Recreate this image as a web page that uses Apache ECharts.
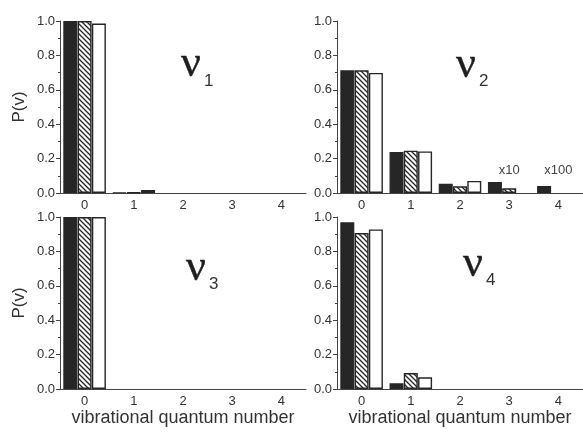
<!DOCTYPE html>
<html>
<head>
<meta charset="utf-8">
<script src="https://cdn.jsdelivr.net/npm/echarts@6/dist/echarts.min.js"></script>
<style>
html,body{margin:0;padding:0;background:#fff;}
#chart{width:583px;height:432px;}
</style>
</head>
<body>
<div id="chart"></div>
<script>
// ---- data ----
var categories = ['0', '1', '2', '3', '4'];
var yTicks = [0, 0.2, 0.4, 0.6, 0.8, 1.0];

var nu1Filled  = [1.000, 0.003, '-', '-', '-'];
var nu1Hatched = [1.000, 0.003, '-', '-', '-'];
var nu1Open    = [0.985, 0.017, '-', '-', '-'];

var nu2Filled  = [0.713, 0.238, 0.054, 0.064, 0.041];
var nu2Hatched = [0.713, 0.246, 0.039, 0.027, '-'];
var nu2Open    = [0.698, 0.242, 0.070, '-', '-'];

var nu3Filled  = [1.000, '-', '-', '-', '-'];
var nu3Hatched = [1.000, '-', '-', '-', '-'];
var nu3Open    = [1.000, '-', '-', '-', '-'];

var nu4Filled  = [0.969, 0.033, '-', '-', '-'];
var nu4Hatched = [0.907, 0.093, '-', '-', '-'];
var nu4Open    = [0.928, 0.068, '-', '-', '-'];

var panelLabels = ['1', '2', '3', '4'];
var scaleNotes = [{cat: 3, text: 'x10'}, {cat: 4, text: 'x100'}];

// ---- styles ----
var DARK = '#262626';
var AXIS = '#444';
var TXT = '#333';
var SANS = 'Liberation Sans, Arial, sans-serif';

var pc = document.createElement('canvas');
pc.width = 5; pc.height = 5;
var g = pc.getContext('2d');
g.fillStyle = '#fff'; g.fillRect(0, 0, 5, 5);
g.strokeStyle = DARK; g.lineWidth = 1.3;
g.beginPath();
g.moveTo(-1, -1); g.lineTo(6, 6);
g.moveTo(-1, 4); g.lineTo(1, 6);
g.moveTo(4, -1); g.lineTo(6, 1);
g.stroke();
var hatch = {image: pc, repeat: 'repeat'};

var grids = [
  {left: 60, top: 21, width: 246, height: 172},
  {left: 337, top: 21, width: 246, height: 172},
  {left: 60, top: 217, width: 246, height: 172},
  {left: 337, top: 217, width: 246, height: 172}
];

var xAxes = [], yAxes = [], series = [];
var sets = [
  [nu1Filled, nu1Hatched, nu1Open],
  [nu2Filled, nu2Hatched, nu2Open],
  [nu3Filled, nu3Hatched, nu3Open],
  [nu4Filled, nu4Hatched, nu4Open]
];

grids.forEach(function (gr, i) {
  var bottom = i >= 2;
  xAxes.push({
    type: 'category', gridIndex: i, data: categories, boundaryGap: true,
    axisLine: {lineStyle: {color: AXIS, width: 1}},
    axisTick: {alignWithLabel: true, length: 4, lineStyle: {color: AXIS}},
    axisLabel: {color: TXT, fontFamily: SANS, fontSize: 13, margin: 6},
    name: bottom ? 'vibrational quantum number' : '',
    nameLocation: 'middle', nameGap: 18,
    nameTextStyle: {color: TXT, fontFamily: SANS, fontSize: 18}
  });
  xAxes.push({
    type: 'category', gridIndex: i, data: categories, boundaryGap: true,
    position: 'bottom',
    axisLine: {show: false},
    axisTick: {length: 2, lineStyle: {color: AXIS}},
    axisLabel: {show: false}
  });
  yAxes.push({
    type: 'value', gridIndex: i, min: 0, max: 1, interval: 0.2,
    splitLine: {show: false},
    axisLine: {show: true, lineStyle: {color: AXIS, width: 1}},
    axisTick: {show: true, length: 4, lineStyle: {color: AXIS}},
    minorTick: {show: true, splitNumber: 2, length: 2, lineStyle: {color: AXIS}},
    axisLabel: {color: TXT, fontFamily: SANS, fontSize: 13, margin: 5,
      formatter: function (v) { return v.toFixed(1); }},
    name: (i % 2 === 0) ? 'P(v)' : '',
    nameLocation: 'middle', nameRotate: 90, nameGap: 32,
    nameTextStyle: {color: TXT, fontFamily: SANS, fontSize: 17}
  });
  var s = sets[i];
  var styles = [
    {color: DARK, borderColor: DARK, borderWidth: 1.2},
    {color: hatch, borderColor: DARK, borderWidth: 1.4},
    {color: '#fff', borderColor: DARK, borderWidth: 1.4}
  ];
  for (var k = 0; k < 3; k++) {
    series.push({
      type: 'bar', xAxisIndex: i * 2, yAxisIndex: i, data: s[k],
      barWidth: 14, barGap: '2%', itemStyle: styles[k],
      silent: true, animation: false
    });
  }
});

var graphics = [];
// glyph left and baseline for the nu, and for the subscript
var nuPos = [
  {x: 181, b: 86, sx: 204, sb: 90},
  {x: 456, b: 87, sx: 479, sb: 90},
  {x: 186, b: 290, sx: 209, sb: 293},
  {x: 463, b: 286, sx: 486, sb: 289}
];
nuPos.forEach(function (p, i) {
  graphics.push({type: 'text', x: p.x, y: p.b, style: {
    text: 'ν', fontFamily: 'Liberation Serif, serif', fontSize: 44, fill: '#1e1e1e',
    stroke: '#1e1e1e', lineWidth: 0.4, verticalAlign: 'bottom'}});
  graphics.push({type: 'text', x: p.sx, y: p.sb, style: {
    text: panelLabels[i], fontFamily: SANS, fontSize: 17, fill: '#333',
    verticalAlign: 'bottom'}});
});

var chart = echarts.init(document.getElementById('chart'), null, {renderer: 'canvas'});
chart.setOption({
  animation: false,
  grid: grids,
  xAxis: xAxes,
  yAxis: yAxes,
  series: series,
  graphic: graphics
});

// scale notes above the small bars in panel 2, positioned via the chart's own scale
scaleNotes.forEach(function (n) {
  var pt = chart.convertToPixel({xAxisIndex: 2, yAxisIndex: 1}, [n.cat, 0.13]);
  graphics.push({type: 'text', x: pt[0], y: pt[1], style: {
    text: n.text, fontFamily: SANS, fontSize: 13, fill: '#444',
    align: 'center', verticalAlign: 'middle'}});
});
chart.setOption({graphic: graphics});
</script>
</body>
</html>
